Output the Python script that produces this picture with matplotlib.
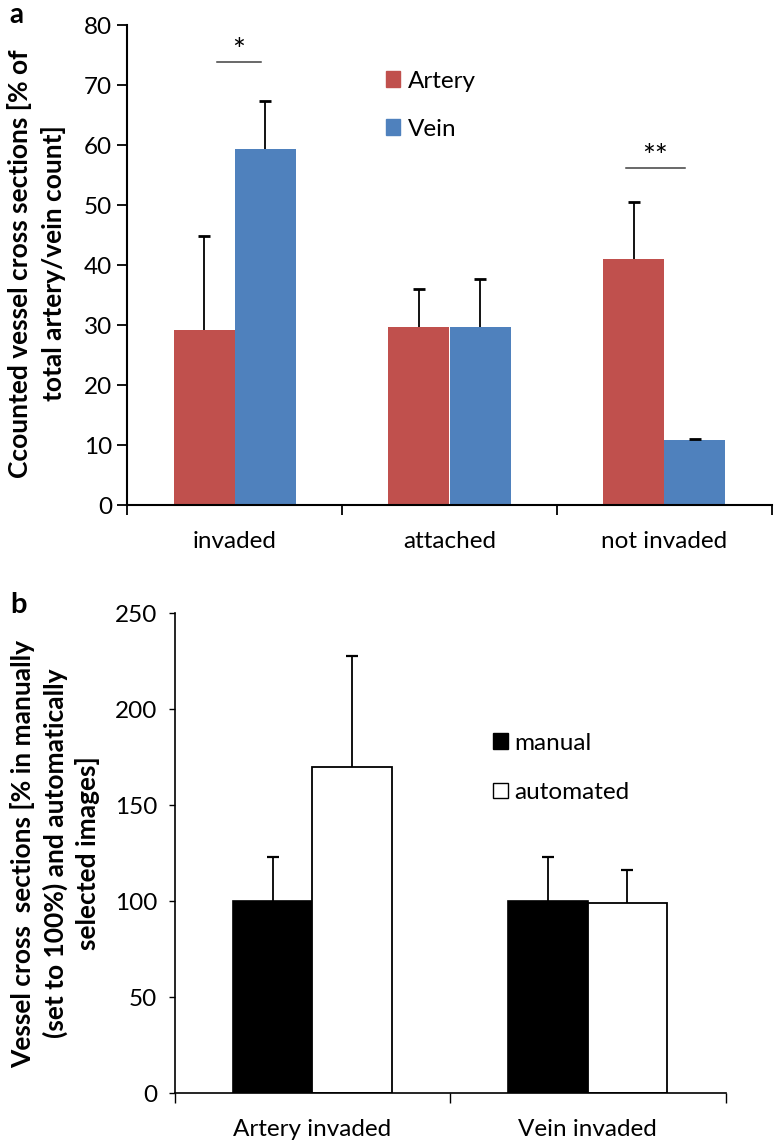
import matplotlib
matplotlib.use("Agg")
import matplotlib.pyplot as plt
from matplotlib.patches import Patch
import numpy as np

plt.rcParams['font.family'] = ['Lato', 'DejaVu Sans']

# ---- Panel a data ----
cats_a = ["invaded", "attached", "not invaded"]
artery_vals = [29.2, 29.7, 41.0]
artery_err = [15.7, 6.3, 9.5]
vein_vals = [59.4, 29.7, 10.9]
vein_err = [8.0, 8.0, 0.1]
sig_labels = ["*", "**"]
sig_line_y = [73.8, 56.1]
sig_x0 = [0.415, 2.320]
sig_x1 = [0.621, 2.599]
sig_text_y = [73.4, 55.7]
yticks_a = [0, 10, 20, 30, 40, 50, 60, 70, 80]

# ---- Panel b data ----
cats_b = ["Artery invaded", "Vein invaded"]
manual_vals = [100.0, 100.0]
manual_err = [23.1, 23.1]
auto_vals = [169.9, 98.7]
auto_err = [57.9, 17.2]
yticks_b = [0, 50, 100, 150, 200, 250]

W, H = 774, 1141
fig = plt.figure(figsize=(W / 100, H / 100), dpi=100)


def px_axes(l, t, r, b):
    return fig.add_axes([l / W, 1 - b / H, (r - l) / W, (b - t) / H])


FS = 17.5
LFS = 17.5
ecol = '#000000'


def up_err(axis, xs, ys, errs, lw, cap, capw):
    _, caps, _ = axis.errorbar(xs, ys, yerr=[np.zeros(len(ys)), errs], fmt='none',
                               ecolor=ecol, elinewidth=lw, capsize=cap,
                               capthick=capw, zorder=3)
    caps[0].set_visible(False)


# ---------------- Panel a ----------------
ax = px_axes(127.5, 25, 771.5, 505)
x = np.arange(len(cats_a)) + 0.5
bw = 0.285
ax.bar(x - bw / 2, artery_vals, bw, color='#C0504D', label='Artery', zorder=2)
ax.bar(x + bw / 2, vein_vals, bw, color='#4F81BD', label='Vein', zorder=2)
up_err(ax, x - bw / 2, artery_vals, artery_err, 1.3, 4, 2.0)
up_err(ax, x + bw / 2, vein_vals, vein_err, 1.3, 4, 2.0)
for lab, ly, x0, x1, ty in zip(sig_labels, sig_line_y, sig_x0, sig_x1, sig_text_y):
    ax.plot([x0, x1], [ly, ly], color='#404040', lw=1.1)
    ax.text((x0 + x1) / 2, ty, lab, ha='center', va='bottom', fontsize=22)
ax.set_xlim(0, 3)
ax.set_ylim(0, 80)
ax.set_yticks(yticks_a)
ax.set_yticklabels([str(v) for v in yticks_a], fontsize=FS)
ax.set_xticks([0, 1, 2, 3])
ax.set_xticklabels([])
ax.set_xticks(x, minor=True)
ax.set_xticklabels(cats_a, minor=True, fontsize=FS)
ax.tick_params(axis='x', which='minor', length=0, pad=19)
ax.tick_params(axis='x', which='major', length=7, width=1.3, direction='out')
ax.tick_params(axis='y', length=7, width=1.3, direction='out', pad=4)
for s in ['top', 'right']:
    ax.spines[s].set_visible(False)
for s in ['left', 'bottom']:
    ax.spines[s].set_linewidth(1.5)
ax.legend(handles=[Patch(color='#C0504D', label='Artery'),
                   Patch(color='#4F81BD', label='Vein')],
          loc='upper left', bbox_to_anchor=(0.401, 0.9045),
          frameon=False, fontsize=LFS, handlelength=0.6, handleheight=0.62,
          handletextpad=0.3, labelspacing=1.11, borderpad=0, borderaxespad=0)

fig.text(36.5 / W, 1 - 263.5 / H, "Ccounted vessel cross sections [% of\ntotal artery/vein count]",
         rotation=90, ha='center', va='center', fontsize=19, fontweight='bold',
         multialignment='center', linespacing=1.4)
fig.text(16 / W, 1 - 2 / H, "a", ha='center', va='top', fontsize=20, fontweight='bold')

# ---------------- Panel b ----------------
bx = px_axes(174.5, 613, 725.5, 1093)
xb = np.arange(len(cats_b)) + 0.5
bwb = 0.288
bx.bar(xb - bwb / 2, manual_vals, bwb, color='black', edgecolor='black', lw=1.2,
       label='manual', zorder=2)
bx.bar(xb + bwb / 2, auto_vals, bwb, color='white', edgecolor='black', lw=1.3,
       label='automated', zorder=2)
up_err(bx, xb - bwb / 2, manual_vals, manual_err, 1.3, 4, 1.6)
up_err(bx, xb + bwb / 2, auto_vals, auto_err, 1.3, 4, 1.6)
bx.set_xlim(0, 2)
bx.set_ylim(0, 250)
bx.set_yticks(yticks_b)
bx.set_yticklabels([str(v) for v in yticks_b], fontsize=FS)
bx.set_xticks([0, 1, 2])
bx.set_xticklabels([])
bx.set_xticks(xb, minor=True)
bx.set_xticklabels(cats_b, minor=True, fontsize=FS)
bx.tick_params(axis='x', which='minor', length=0, pad=19)
bx.tick_params(axis='x', which='major', length=7, width=1.0, direction='out')
bx.tick_params(axis='y', length=4.5, width=1.0, direction='out', pad=8)
for s in ['top', 'right']:
    bx.spines[s].set_visible(False)
for s in ['left', 'bottom']:
    bx.spines[s].set_linewidth(1.2)
bx.legend(handles=[Patch(facecolor='black', edgecolor='black', label='manual'),
                   Patch(facecolor='white', edgecolor='black', label='automated')],
          loc='upper left', bbox_to_anchor=(0.578, 0.7506),
          frameon=False, fontsize=LFS, handlelength=0.62, handleheight=0.6,
          handletextpad=0.25, labelspacing=1.16, borderpad=0, borderaxespad=0)

fig.text(55 / W, 1 - 853.5 / H,
         "Vessel cross  sections [% in manually\n(set to 100%) and automatically\nselected images]",
         rotation=90, ha='center', va='center', fontsize=19, fontweight='bold',
         multialignment='center', linespacing=1.33)
fig.text(18 / W, 1 - 613 / H, "b", ha='center', va='baseline', fontsize=21, fontweight='bold')

fig.savefig("out.png", dpi=100)
